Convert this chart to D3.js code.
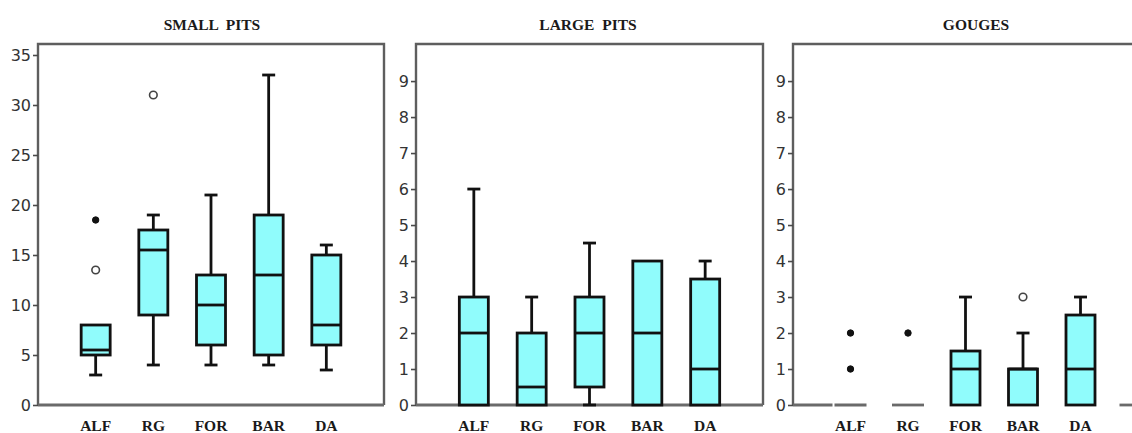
<!DOCTYPE html>
<html>
<head>
<meta charset="utf-8">
<script src="https://cdn.jsdelivr.net/npm/d3@7"></script>
<style>
  html, body { margin: 0; padding: 0; background: #fff; }
  svg { display: block; }
  .title, .cat { font-family: "Liberation Serif", "Times New Roman", serif; font-weight: bold; font-size: 15.5px; fill: #1a1a1a; white-space: pre; }
  .tick text { font-family: "DejaVu Sans", Verdana, sans-serif; font-size: 16px; fill: #333; }
</style>
</head>
<body>
<svg id="chart" width="1132" height="433"></svg>
<script>
// Sites along each x axis
const categories = ["ALF", "RG", "FOR", "BAR", "DA"];

// Five-number summaries per site: [lower whisker, Q1, median, Q3, upper whisker]
const smallPits = [[3, 5, 5.5, 8, 8], [4, 9, 15.5, 17.5, 19], [4, 6, 10, 13, 21], [4, 5, 13, 19, 33], [3.5, 6, 8, 15, 16]];
const largePits = [[0, 0, 2, 3, 6], [0, 0, 0.5, 2, 3], [0, 0.5, 2, 3, 4.5], [0, 0, 2, 4, 4], [0, 0, 1, 3.5, 4]];
const gouges = [[0, 0, 0, 0, 0], [0, 0, 0, 0, 0], [0, 0, 1, 1.5, 3], [0, 0, 1, 1, 2], [0, 0, 1, 2.5, 3]];

// Outliers: open circles = outliers, filled dots = extremes
const smallPitsOutliers = [{ cat: "ALF", v: 13.5, extreme: false }, { cat: "ALF", v: 18.5, extreme: true }, { cat: "RG", v: 31, extreme: false }];
const largePitsOutliers = [];
const gougesOutliers = [{ cat: "ALF", v: 1, extreme: true }, { cat: "ALF", v: 2, extreme: true }, { cat: "RG", v: 2, extreme: true }, { cat: "BAR", v: 3, extreme: false }];

// Tick values
const smallPitsTicks = [0, 5, 10, 15, 20, 25, 30, 35];
const countTicks = [0, 1, 2, 3, 4, 5, 6, 7, 8, 9];

const panels = [
  { title: "SMALL  PITS", stats: smallPits, outliers: smallPitsOutliers, ticks: smallPitsTicks, max: 36.1,
    left: 38, right: 384, titleX: 212, splitBase: false },
  { title: "LARGE  PITS", stats: largePits, outliers: largePitsOutliers, ticks: countTicks, max: 10.03,
    left: 416, right: 763, titleX: 588, splitBase: false },
  { title: "GOUGES", stats: gouges, outliers: gougesOutliers, ticks: countTicks, max: 10.03,
    left: 793, right: 1138, titleX: 976, splitBase: true }
];

const plotTop = 44, plotBottom = 405;
const boxW = 29, capW = 13, ink = "#111", lw = 2.8;
const svg = d3.select("#chart");

panels.forEach(p => {
  const x = d3.scalePoint().domain(categories).range([p.left, p.right]).padding(1);
  const y = d3.scaleLinear().domain([0, p.max]).range([plotBottom, plotTop]);
  const g = svg.append("g");

  // Frame: left, top, right sides
  g.append("path")
    .attr("d", `M${p.left},${plotBottom}V${plotTop}H${p.right}V${plotBottom}`)
    .attr("fill", "none").attr("stroke", "#5e5e5e").attr("stroke-width", 2.4);

  // Bottom line
  const baseSegs = p.splitBase
    ? [[p.left, x(categories[0]) - 18], [x(categories[categories.length - 1]) + 39, p.right]]
    : [[p.left, p.right]];
  baseSegs.forEach(s => {
    g.append("line").attr("x1", s[0]).attr("x2", s[1]).attr("y1", plotBottom).attr("y2", plotBottom)
      .attr("stroke", "#6a6a6a").attr("stroke-width", 2.8);
  });

  // Y axis
  const ax = g.append("g").attr("transform", `translate(${p.left},0)`)
    .call(d3.axisLeft(y).tickValues(p.ticks).tickSize(5).tickPadding(2).tickFormat(d3.format("d")));
  ax.select(".domain").remove();
  ax.selectAll(".tick line").attr("stroke", "#4a4a4a").attr("stroke-width", 1.6);

  // Title and category labels
  g.append("text").attr("class", "title").attr("x", p.titleX).attr("y", 30)
    .attr("text-anchor", "middle").text(p.title);
  g.selectAll(".cat").data(categories).join("text").attr("class", "cat")
    .attr("x", d => x(d)).attr("y", 431).attr("text-anchor", "middle").text(d => d);

  // Boxes
  p.stats.forEach((s, i) => {
    const cx = x(categories[i]);
    const [lo, q1, med, q3, hi] = s;
    const bg = g.append("g");
    if (q3 === q1) {
      // Collapsed box: everything at one value
      bg.append("line").attr("x1", cx - 16).attr("x2", cx + 16).attr("y1", y(q1)).attr("y2", y(q1))
        .attr("stroke", "#6a6a6a").attr("stroke-width", 2.8);
      if (q3 === hi) return;
    }
    if (hi > q3) {
      bg.append("line").attr("x1", cx).attr("x2", cx).attr("y1", y(q3)).attr("y2", y(hi))
        .attr("stroke", ink).attr("stroke-width", lw);
      bg.append("line").attr("x1", cx - capW / 2).attr("x2", cx + capW / 2).attr("y1", y(hi)).attr("y2", y(hi))
        .attr("stroke", ink).attr("stroke-width", lw);
    }
    if (lo < q1) {
      bg.append("line").attr("x1", cx).attr("x2", cx).attr("y1", y(q1)).attr("y2", y(lo))
        .attr("stroke", ink).attr("stroke-width", lw);
      bg.append("line").attr("x1", cx - capW / 2).attr("x2", cx + capW / 2).attr("y1", y(lo)).attr("y2", y(lo))
        .attr("stroke", ink).attr("stroke-width", lw);
    }
    if (q3 > q1) {
      bg.append("rect").attr("x", cx - boxW / 2).attr("width", boxW)
        .attr("y", y(q3)).attr("height", y(q1) - y(q3))
        .attr("fill", "#90fcfc").attr("stroke", ink).attr("stroke-width", lw);
      bg.append("line").attr("x1", cx - boxW / 2).attr("x2", cx + boxW / 2).attr("y1", y(med)).attr("y2", y(med))
        .attr("stroke", ink).attr("stroke-width", lw);
    }
  });

  // Outliers
  g.selectAll(".out").data(p.outliers).join("circle").attr("class", "out")
    .attr("cx", d => x(d.cat)).attr("cy", d => y(d.v))
    .attr("r", d => d.extreme ? 3.2 : 3.8)
    .attr("fill", d => d.extreme ? ink : "#fff")
    .attr("stroke", d => d.extreme ? ink : "#444")
    .attr("stroke-width", d => d.extreme ? 1 : 1.6);
});
</script>
</body>
</html>
